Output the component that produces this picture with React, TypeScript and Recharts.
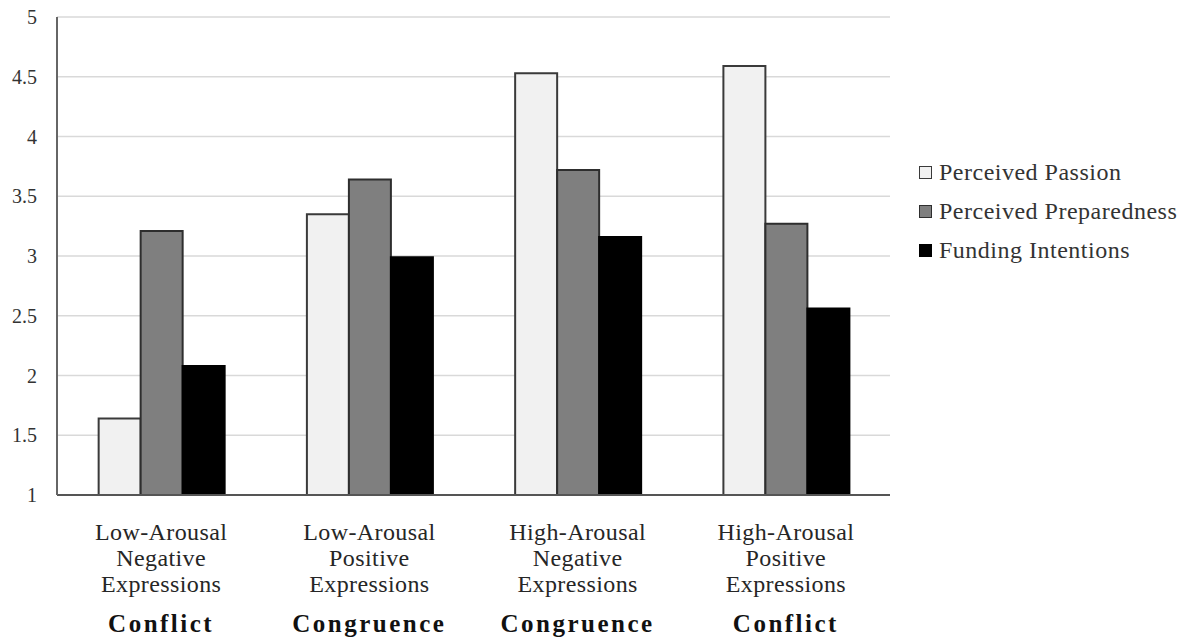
import React from "react";
import { BarChart, Bar, XAxis, YAxis, CartesianGrid, Legend } from "recharts";

const categories = ["Low-Arousal Negative", "Low-Arousal Positive", "High-Arousal Negative", "High-Arousal Positive"];
const categoryLines = [
  ["Low-Arousal", "Negative", "Expressions"],
  ["Low-Arousal", "Positive", "Expressions"],
  ["High-Arousal", "Negative", "Expressions"],
  ["High-Arousal", "Positive", "Expressions"],
];
const fitLabels = ["Conflict", "Congruence", "Congruence", "Conflict"];
const passion = [1.64, 3.35, 4.53, 4.59];
const preparedness = [3.21, 3.64, 3.72, 3.27];
const funding = [2.08, 2.99, 3.16, 2.56];
const yTicks = [1, 1.5, 2, 2.5, 3, 3.5, 4, 4.5, 5];

const series = [
  { key: "passion", name: "Perceived Passion", fill: "#f1f1f1", stroke: "#3a3a3a" },
  { key: "preparedness", name: "Perceived Preparedness", fill: "#7f7f7f", stroke: "#2e2e2e" },
  { key: "funding", name: "Funding Intentions", fill: "#000000", stroke: "#000000" },
];

const data = categories.map((c, i) => ({
  name: c,
  passion: passion[i],
  preparedness: preparedness[i],
  funding: funding[i],
}));

const serif = "'Liberation Serif', 'DejaVu Serif', serif";

const CategoryTick = (props: any) => {
  const { x, y, index } = props;
  const lines = categoryLines[index] || [];
  return (
    <g transform={`translate(${x},${y})`}>
      {lines.map((l, i) => (
        <text key={i} x={0} y={37 + i * 26} textAnchor="middle" fontFamily={serif} fontSize={24} letterSpacing={0.4} fill="#262626">
          {l}
        </text>
      ))}
      <text x={0} y={129} textAnchor="middle" fontFamily={serif} fontSize={25} fontWeight="bold" letterSpacing={2.5} fill="#111">
        {fitLabels[index]}
      </text>
    </g>
  );
};

const LegendBox = () => (
  <div style={{ fontFamily: serif, fontSize: 24, color: "#333", letterSpacing: 0.5 }}>
    {series.map((s) => (
      <div key={s.key} style={{ display: "flex", alignItems: "center", height: 39, whiteSpace: "nowrap" }}>
        <span style={{ width: 11, height: 11, background: s.fill, border: `1.5px solid ${s.stroke}`, marginRight: 7, display: "inline-block" }} />
        <span>{s.name}</span>
      </div>
    ))}
  </div>
);

const App: React.FC = () => (
  <div style={{ position: "absolute", left: 0, top: 0, width: 1196, height: 640, background: "#fff" }}>
    <BarChart width={1196} height={640} data={data} margin={{ top: 17, right: 30, bottom: 5, left: 7 }} barGap={0} barCategoryGap="20%">
      <CartesianGrid vertical={false} stroke="#d9d9d9" strokeWidth={1.5} />
      <XAxis dataKey="name" height={140} tick={<CategoryTick />} tickLine={false} axisLine={{ stroke: "#555", strokeWidth: 2 }} interval={0} />
      <YAxis
        domain={[1, 5]}
        ticks={yTicks}
        width={50}
        tickLine={false}
        axisLine={{ stroke: "#666", strokeWidth: 2 }}
        tickMargin={14}
        tick={{ fontFamily: serif, fontSize: 20, fill: "#333" }}
        allowDataOverflow
      />
      <Legend content={<LegendBox />} layout="vertical" verticalAlign="top" align="right" wrapperStyle={{ left: 919, top: 153, width: 276 }} />
      {series.map((s) => (
        <Bar key={s.key} dataKey={s.key} name={s.name} fill={s.fill} stroke={s.stroke} strokeWidth={2} isAnimationActive={false} />
      ))}
    </BarChart>
  </div>
);

export default App;
